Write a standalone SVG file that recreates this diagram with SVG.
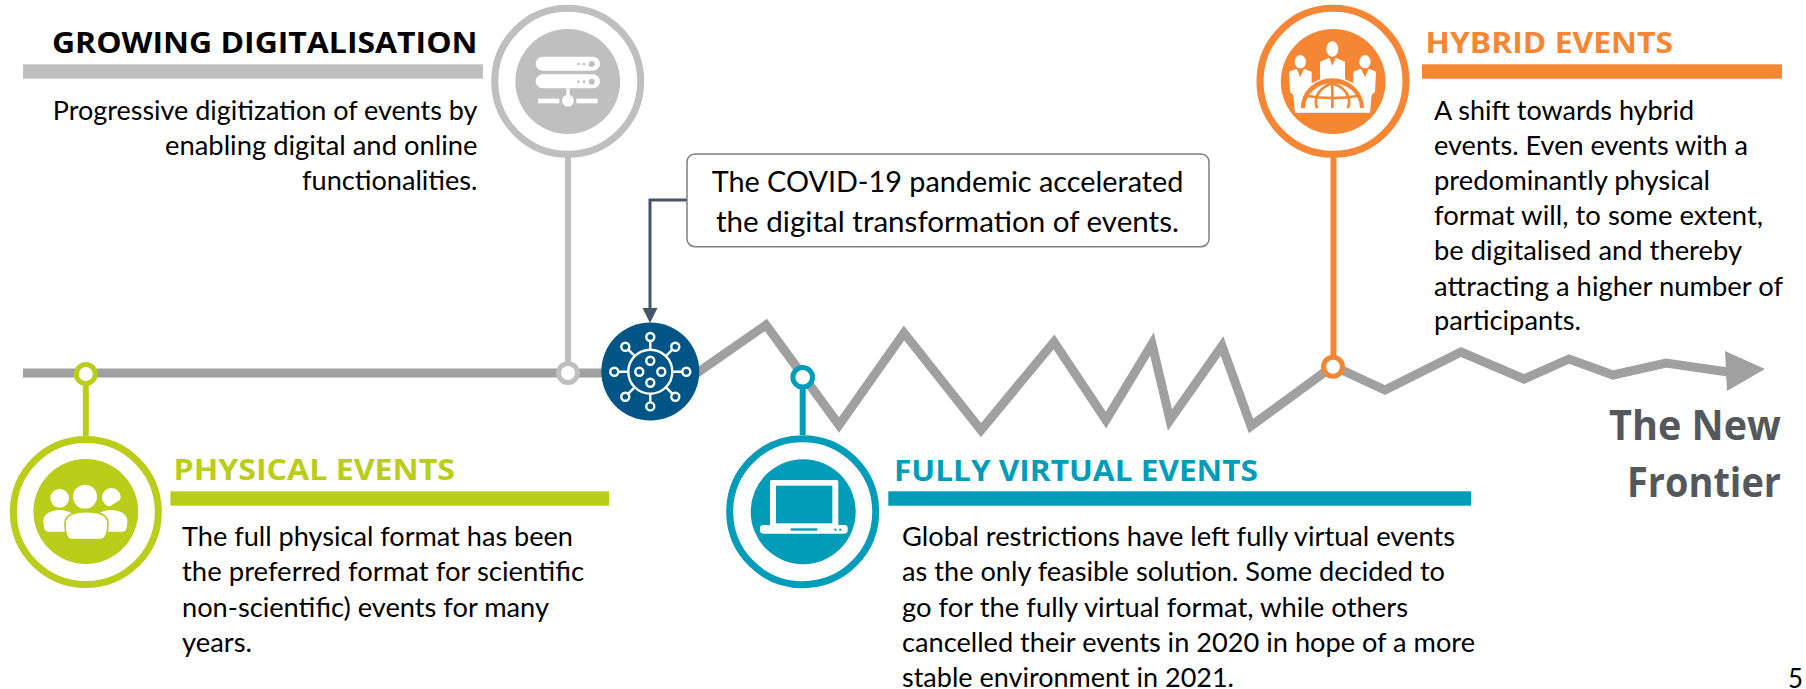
<svg xmlns="http://www.w3.org/2000/svg" width="1806" height="689" viewBox="0 0 1806 689">
<style>
text{font-family:"Lato","Liberation Sans",sans-serif;fill:#000}
.b{font-size:26.5px}
.h{font-family:"Open Sans","Liberation Sans",sans-serif;font-size:28.5px;font-weight:700}
.f{font-family:"Open Sans","Liberation Sans",sans-serif;font-size:40.5px;font-weight:700;fill:#54575c}
.c{font-size:29px}
.r{fill:#fff;stroke-width:7}
.w{fill:#fff}
.n{fill:#fff;stroke-width:5}
.vs{fill:none;stroke:#fff;stroke-width:2.400}
</style>
<rect width="1806" height="689" fill="#fff"/>
<g id="connectors" fill="none">
<path id="timeline" d="M23 373H697L766 325L839 425L904 333L981 430L1054 342L1106 420L1152 344L1170 420L1222 346L1251 426L1333 366L1385 390L1461 352L1524 379L1569 359L1613 375L1666 363L1728 372" stroke="#a0a0a0" stroke-width="9" stroke-miterlimit="10"/>
<path d="M1725 351L1765 369L1727 391Z" fill="#a0a0a0"/>
<path d="M85.800 374V436" stroke="#b9cd1a" stroke-width="6"/>
<path d="M568 157V373" stroke="#bfbfbf" stroke-width="6"/>
<path d="M802.700 377V435" stroke="#009cb9" stroke-width="6"/>
<path d="M1333.500 157V366" stroke="#f58634" stroke-width="6"/>
<path d="M687 200H650V310" stroke="#44546a" stroke-width="3"/>
<path d="M642.500 308H657.500L650 323Z" fill="#44546a"/>
</g>
<g id="physical">
<circle class="n" cx="85.800" cy="374" r="9.500" stroke="#b9cd1a"/>
<circle class="r" cx="85.800" cy="512" r="72.500" stroke="#b9cd1a"/>
<circle cx="85.800" cy="511.500" r="52.400" fill="#b9cd1a"/>
<g transform="translate(20 460) scale(.3333)">
<circle class="w" cx="119" cy="115" r="28"/><circle class="w" cx="195" cy="110" r="36"/><circle class="w" cx="274" cy="112" r="28"/>
<path d="M268 140L305 116V145Z" fill="#b9cd1a"/>
<path class="w" d="M70 180C72 158 100 148 125 150C140 152 150 156 160 162L140 215H85C75 215 70 205 70 180Z"/>
<path class="w" d="M322 180C320 158 292 148 267 150C252 152 242 156 232 162L255 215H308C318 215 322 205 322 180Z"/>
<path class="w" stroke="#b9cd1a" stroke-width="5" d="M135 190C135 165 165 155 198 155C235 155 264 165 264 190C264 215 260 239 240 239H155C140 239 135 215 135 190Z"/>
</g>
<text class="h" x="173.500" y="479.500" textLength="281.500" lengthAdjust="spacingAndGlyphs" style="fill:#b9cd1a">PHYSICAL EVENTS</text>
<rect x="170.400" y="491.300" width="438.600" height="14.400" fill="#b9cd1a"/>
<text class="b" x="182" y="545.500" textLength="391" lengthAdjust="spacingAndGlyphs">The full physical format has been</text>
<text class="b" x="182" y="581" textLength="402" lengthAdjust="spacingAndGlyphs">the preferred format for scientific</text>
<text class="b" x="182" y="616.500" textLength="367" lengthAdjust="spacingAndGlyphs">non-scientific) events for many</text>
<text class="b" x="182" y="652" textLength="70" lengthAdjust="spacingAndGlyphs">years.</text>
</g>
<g id="digitalisation">
<circle class="n" cx="568" cy="373" r="9.500" stroke="#bfbfbf"/>
<circle class="r" cx="567.700" cy="81.300" r="73" stroke="#bfbfbf"/>
<circle cx="567.700" cy="81.500" r="52.400" fill="#bfbfbf"/>
<g transform="translate(500 20) scale(.3333)">
<rect class="w" x="107" y="110" width="193" height="42" rx="21"/>
<rect class="w" x="107" y="163" width="193" height="42" rx="21"/>
<circle cx="275" cy="132" r="9" fill="#bfbfbf"/><circle cx="252" cy="132" r="4" fill="#bfbfbf"/><circle cx="235" cy="132" r="4" fill="#bfbfbf"/>
<circle cx="275" cy="185" r="9" fill="#bfbfbf"/><circle cx="252" cy="185" r="4" fill="#bfbfbf"/><circle cx="235" cy="185" r="4" fill="#bfbfbf"/>
<rect class="w" x="199" y="205" width="10" height="30"/>
<circle class="w" cx="204" cy="242" r="18"/>
<rect class="w" x="114" y="236" width="64" height="14"/>
<rect class="w" x="229" y="236" width="64" height="14"/>
</g>
<text class="h" x="52" y="52.500" textLength="425.500" lengthAdjust="spacingAndGlyphs">GROWING DIGITALISATION</text>
<rect x="23" y="64.300" width="460" height="14.400" fill="#bfbfbf"/>
<text class="b" x="52.800" y="119.500" textLength="424.700" lengthAdjust="spacingAndGlyphs">Progressive digitization of events by</text>
<text class="b" x="165" y="154.500" textLength="312.500" lengthAdjust="spacingAndGlyphs">enabling digital and online</text>
<text class="b" x="302" y="189.500" textLength="175.500" lengthAdjust="spacingAndGlyphs">functionalities.</text>
</g>
<g id="covid">
<circle cx="650.300" cy="371.500" r="49" fill="#005587"/>
<g transform="translate(650.300 371.700)">
<circle class="vs" r="22"/>
<path class="vs" d="M0-22V-31M0 22V31M-22 0H-32M22 0H32M-15.500-15.500L-22-22M15.500-15.500L22-22M-15.500 15.500L-22 22M15.500 15.500L22 22"/>
<circle class="vs" cy="-34.700" r="4"/><circle class="vs" cy="34.700" r="4"/><circle class="vs" cx="-36" r="4"/><circle class="vs" cx="36" r="4"/>
<circle class="vs" cx="-25" cy="-25" r="4"/><circle class="vs" cx="25" cy="-25" r="4"/><circle class="vs" cx="-25" cy="25" r="4"/><circle class="vs" cx="25" cy="25" r="4"/>
<circle class="vs" cy="-11" r="4"/><circle class="vs" cy="11" r="4"/><circle class="vs" cx="-11" r="4"/><circle class="vs" cx="11" r="4"/>
</g>
</g>
<g id="callout">
<rect x="687" y="154" width="522" height="92.700" rx="8" fill="#fff" stroke="#7f7f7f" stroke-width="1.500"/>
<text class="c" x="711.700" y="192" textLength="471.700" lengthAdjust="spacingAndGlyphs">The COVID-19 pandemic accelerated</text>
<text class="c" x="716" y="231.500" textLength="463" lengthAdjust="spacingAndGlyphs">the digital transformation of events.</text>
</g>
<g id="virtual">
<circle class="n" cx="802.700" cy="377.300" r="9.800" stroke="#009cb9"/>
<circle class="r" cx="802.700" cy="511.700" r="73" stroke="#009cb9"/>
<circle cx="803.200" cy="511.700" r="52.500" fill="#009cb9"/>
<g transform="translate(740 460) scale(.3333)">
<rect class="w" x="90" y="60" width="205" height="140" rx="5"/>
<rect x="108" y="77" width="169" height="113" fill="#009cb9"/>
<rect class="w" x="60" y="195" width="263" height="26" rx="10"/>
<rect x="152" y="205" width="80" height="7" fill="#009cb9"/>
<circle cx="286" cy="209" r="3.500" fill="#009cb9"/><circle cx="301" cy="209" r="3.500" fill="#009cb9"/>
</g>
<text class="h" x="894" y="480.500" textLength="364" lengthAdjust="spacingAndGlyphs" style="fill:#009cb9">FULLY VIRTUAL EVENTS</text>
<rect x="888.300" y="491.300" width="582.700" height="14.400" fill="#009cb9"/>
<text class="b" x="902" y="545.500" textLength="553" lengthAdjust="spacingAndGlyphs">Global restrictions have left fully virtual events</text>
<text class="b" x="902" y="581" textLength="543" lengthAdjust="spacingAndGlyphs">as the only feasible solution. Some decided to</text>
<text class="b" x="902" y="616.500" textLength="506" lengthAdjust="spacingAndGlyphs">go for the fully virtual format, while others</text>
<text class="b" x="902" y="652" textLength="573" lengthAdjust="spacingAndGlyphs">cancelled their events in 2020 in hope of a more</text>
<text class="b" x="902" y="687" textLength="332" lengthAdjust="spacingAndGlyphs">stable environment in 2021.</text>
</g>
<g id="hybrid">
<circle class="n" cx="1333" cy="366.700" r="9.500" stroke="#f58634"/>
<circle class="r" cx="1333" cy="81.300" r="73" stroke="#f58634"/>
<circle cx="1333.200" cy="81.500" r="52.400" fill="#f58634"/>
<g transform="translate(1270 20) scale(.3333)">
<ellipse class="w" cx="187" cy="87" rx="18" ry="23"/><ellipse class="w" cx="91" cy="125" rx="17" ry="20"/><ellipse class="w" cx="285" cy="125" rx="17" ry="20"/>
<path class="w" d="M57 155L80 146L91 172L102 146L125 155V190L150 178V125L178 113L187 137L197 113L225 125V178L250 190V155L273 146L285 172L296 146L318 155L315 215L305 225L300 278H75L70 225L60 215Z"/>
<path d="M92 265A95 90 0 0 1 282 265Z" fill="#f58634"/>
<path class="w" d="M105 265A82 75 0 0 1 270 265Z"/>
<path fill="none" stroke="#f58634" stroke-width="8" d="M187 190V265M187 190C130 210 135 250 142 265M187 190C245 210 240 250 233 265M112 228C160 236 215 236 263 228"/>
<rect x="75" y="265" width="225" height="3" fill="#fff"/>
</g>
<text class="h" x="1425.500" y="52.500" textLength="247.500" lengthAdjust="spacingAndGlyphs" style="fill:#f58634">HYBRID EVENTS</text>
<rect x="1422" y="64.300" width="360" height="14.400" fill="#f58634"/>
<text class="b" x="1434" y="119.500" textLength="260" lengthAdjust="spacingAndGlyphs">A shift towards hybrid</text>
<text class="b" x="1434" y="154.500" textLength="314" lengthAdjust="spacingAndGlyphs">events. Even events with a</text>
<text class="b" x="1434" y="189.500" textLength="276" lengthAdjust="spacingAndGlyphs">predominantly physical</text>
<text class="b" x="1434" y="225" textLength="329" lengthAdjust="spacingAndGlyphs">format will, to some extent,</text>
<text class="b" x="1434" y="260" textLength="308" lengthAdjust="spacingAndGlyphs">be digitalised and thereby</text>
<text class="b" x="1434" y="295.500" textLength="349" lengthAdjust="spacingAndGlyphs">attracting a higher number of</text>
<text class="b" x="1434" y="330" textLength="147" lengthAdjust="spacingAndGlyphs">participants.</text>
</g>
<g id="frontier">
<text class="f" x="1609" y="439.500" textLength="172" lengthAdjust="spacingAndGlyphs">The New</text>
<text class="f" x="1627" y="496.500" textLength="154" lengthAdjust="spacingAndGlyphs">Frontier</text>
</g>
<text x="1788" y="687.500" style="font-size:27px" textLength="15" lengthAdjust="spacingAndGlyphs">5</text>
</svg>
